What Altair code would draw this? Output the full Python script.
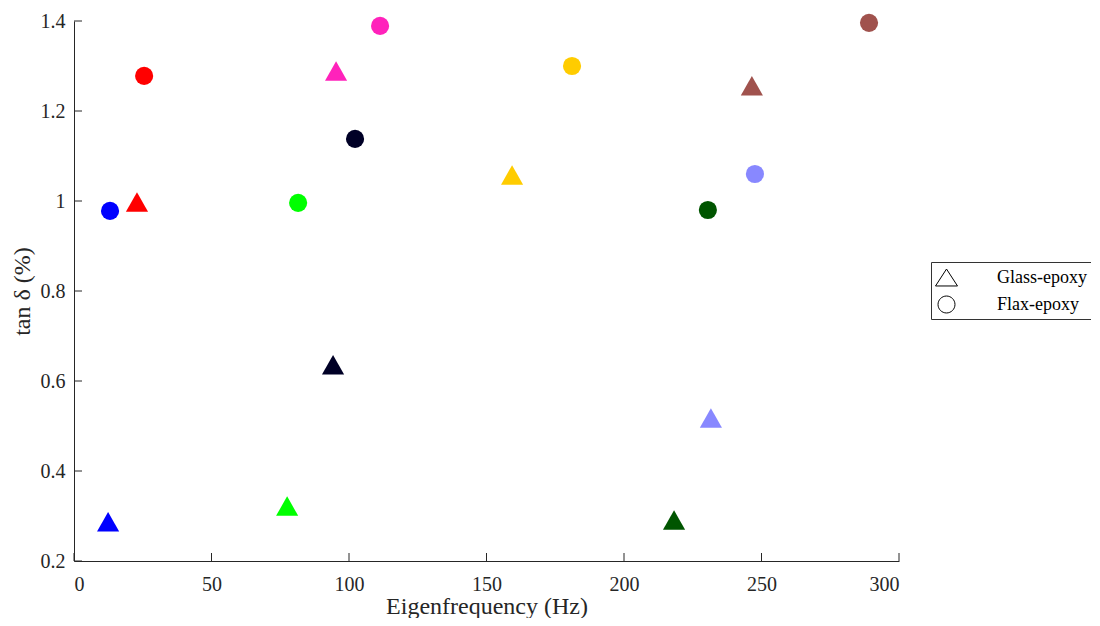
import altair as alt
import pandas as pd

# Glass-epoxy (triangles) and Flax-epoxy (circles); one colour per specimen
colors = ["#0000FF", "#FF0000", "#00FF00", "#000026", "#FF22BB",
          "#FFCC00", "#005500", "#8888FF", "#A0524D"]

glass_freq = [12.4, 22.9, 77.5, 94.2, 95.3, 159.3, 218.2, 231.6, 246.5]
glass_tan = [0.287, 0.998, 0.322, 0.636, 1.289, 1.058, 0.291, 0.518, 1.256]

flax_freq = [13.1, 25.5, 81.5, 102.2, 111.3, 181.1, 230.5, 247.6, 289.1]
flax_tan = [0.978, 1.278, 0.996, 1.138, 1.389, 1.300, 0.980, 1.060, 1.396]

materials = ["Glass-epoxy", "Flax-epoxy"]
x_ticks = [0, 50, 100, 150, 200, 250, 300]
y_ticks = [0.2, 0.4, 0.6, 0.8, 1.0, 1.2, 1.4]

rows = []
for f, t, c in zip(glass_freq, glass_tan, colors):
    rows.append({"freq": f, "tan": t, "color": c, "material": materials[0]})
for f, t, c in zip(flax_freq, flax_tan, colors):
    rows.append({"freq": f, "tan": t, "color": c, "material": materials[1]})
df = pd.DataFrame(rows)

W, H = 825, 540
FONT = "Liberation Serif"
AX = "#262626"
TRI = "M0,-0.88L1,0.88L-1,0.88Z"
TRI_LEG = "M0,-0.77L1,0.77L-1,0.77Z"
CIRC_LEG = "M0.77,0A0.77,0.77 0 1,1 -0.77,0A0.77,0.77 0 1,1 0.77,0Z"

xs = alt.Scale(domain=[0, 300], nice=False, zero=False)
ys = alt.Scale(domain=[0.2, 1.4], nice=False, zero=False)

points = alt.Chart(df).mark_point(filled=True, opacity=1, strokeWidth=0).encode(
    x=alt.X("freq:Q", scale=xs,
            axis=alt.Axis(values=x_ticks, title="Eigenfrequency (Hz)", ticks=False,
                          labelPadding=13, titlePadding=0, grid=False)),
    y=alt.Y("tan:Q", scale=ys,
            axis=alt.Axis(values=y_ticks, title="tan δ (%)", ticks=False,
                          labelPadding=9, titlePadding=6, grid=False,
                          labelExpr="datum.value == 1 ? '1' : format(datum.value, '.1f')")),
    color=alt.Color("color:N", scale=None),
    shape=alt.Shape("material:N", scale=alt.Scale(domain=materials, range=[TRI, "circle"]),
                    legend=None),
    size=alt.Size("material:N", scale=alt.Scale(domain=materials, range=[490, 330]),
                  legend=None),
)

# legend-only layer (no visible marks): open black symbols
leg = pd.DataFrame({"material": materials})
legend_layer = alt.Chart(leg).mark_point(filled=False, color="black", strokeWidth=1,
                                         opacity=1).encode(
    shape=alt.Shape("material:N", scale=alt.Scale(domain=materials, range=[TRI_LEG, CIRC_LEG]),
                    legend=alt.Legend(title=None, orient="none", legendX=857, legendY=241,
                                      strokeColor="#333333", fillColor="white", padding=4,
                                      labelOffset=39, rowPadding=5, labelFontSize=18,
                                      labelFont=FONT, labelColor="black", symbolSize=484,
                                      symbolStrokeWidth=1)),
).transform_filter("false")

xt = pd.DataFrame({"v": x_ticks})
yt = pd.DataFrame({"v": y_ticks})

xtick_rules = alt.Chart(xt).mark_rule(color=AX, strokeWidth=1).encode(
    x=alt.X("v:Q", scale=xs), y=alt.value(H), y2=alt.value(H - 8))
ytick_rules = alt.Chart(yt).mark_rule(color=AX, strokeWidth=1).encode(
    y=alt.Y("v:Q", scale=ys), x=alt.value(0), x2=alt.value(8))

chart = alt.layer(points, legend_layer, xtick_rules, ytick_rules).resolve_scale(
    shape="independent").resolve_legend(shape="independent").properties(
    width=W, height=H,
    autosize=alt.AutoSizeParams(type="none"),
    padding={"left": 66, "top": 13, "right": 192, "bottom": 57},
    background="white",
).configure_view(stroke=None).configure_axis(
    domainColor=AX, domainWidth=1, labelColor=AX, titleColor=AX,
    labelFont=FONT, titleFont=FONT, labelFontSize=20, titleFontSize=24,
    titleFontWeight="normal",
)

chart.save("out.html", embed_options={"renderer": "svg", "actions": False})
